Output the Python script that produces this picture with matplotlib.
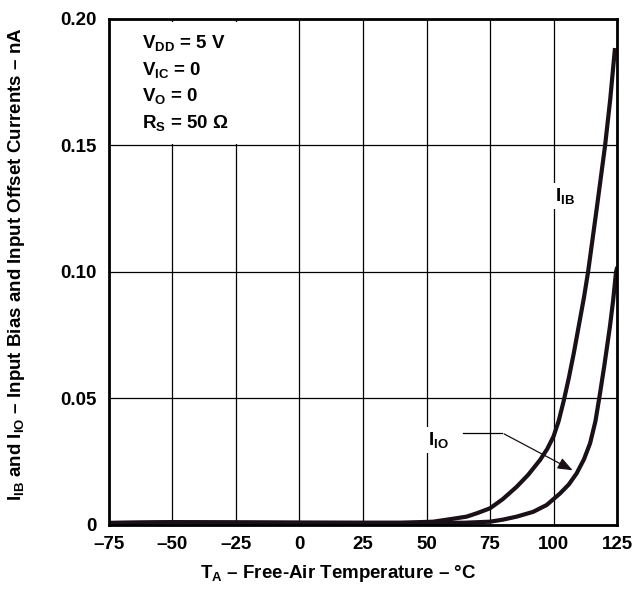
"""Input bias and input offset currents vs free-air temperature."""

import matplotlib

matplotlib.use("Agg")
import matplotlib.pyplot as plt

plt.rcParams["font.family"] = "Liberation Sans"
plt.rcParams["font.weight"] = "bold"
plt.rcParams["axes.labelweight"] = "bold"
plt.rcParams["mathtext.fontset"] = "custom"
plt.rcParams["mathtext.rm"] = "Liberation Sans:bold"
plt.rcParams["mathtext.it"] = "Liberation Sans:bold"
plt.rcParams["mathtext.bf"] = "Liberation Sans:bold"

# data (temperature in degC, current in nA)
temp_ib = [-75, -50, -25, 0, 25, 40, 52.6, 60, 65.8, 70, 75, 80, 85.5, 90,
           94.7, 97.5, 100, 102, 104, 106, 108, 110, 112, 113.6, 117, 120.3,
           122.3, 124.2]
i_ib = [0.0008, 0.0011, 0.001, 0.0009, 0.0009, 0.0009, 0.0013, 0.0024, 0.0033,
        0.0047, 0.0066, 0.0102, 0.0151, 0.0198, 0.0257, 0.030, 0.035, 0.041,
        0.049, 0.058, 0.068, 0.079, 0.090, 0.100, 0.125, 0.150, 0.168, 0.1885]

temp_io = [-75, -50, -25, 0, 25, 50, 65, 75, 80, 85.5, 92, 97.3, 102.6, 106,
           109.1, 112, 114.4, 116.5, 118.3, 120, 122.2, 123.5, 124.6, 125.1]
i_io = [0.0008, 0.0011, 0.001, 0.0009, 0.0008, 0.0008, 0.0009, 0.0013, 0.0021,
        0.0033, 0.0052, 0.0079, 0.0125, 0.016, 0.0204, 0.026, 0.0323, 0.041,
        0.052, 0.063, 0.0784, 0.0890, 0.100, 0.102]

x_ticks = [-75, -50, -25, 0, 25, 50, 75, 100, 125]
x_tick_labels = ["–75", "–50", "–25", "0", "25", "50", "75", "100", "125"]
y_ticks = [0, 0.05, 0.10, 0.15, 0.20]
y_tick_labels = ["0", "0.05", "0.10", "0.15", "0.20"]

conditions = [
    r"V$_{\rm DD}$ = 5 V",
    r"V$_{\rm IC}$ = 0",
    r"V$_{\rm O}$ = 0",
    r"R$_{\rm S}$ = 50 $\Omega$",
]

fig = plt.figure(figsize=(6.41, 5.92), dpi=100)
ax = fig.add_axes([0.170, 0.1132, 0.7926, 0.8548])

ax.set_xlim(-75, 125)
ax.set_ylim(0, 0.20)
ax.set_xticks(x_ticks)
ax.set_xticklabels(x_tick_labels)
ax.set_yticks(y_ticks)
ax.set_yticklabels(y_tick_labels)
ax.tick_params(length=0, labelsize=13.5, pad=8)
ax.tick_params(axis="y", pad=9)
ax.grid(True, color="black", linewidth=0.9)
ax.set_axisbelow(True)
for sp in ax.spines.values():
    sp.set_linewidth(2)

ax.plot(temp_ib, i_ib, color="#1a1018", linewidth=3, solid_capstyle="butt",
        solid_joinstyle="round")
ax.plot(temp_io, i_io, color="#1a1018", linewidth=3, solid_capstyle="butt",
        solid_joinstyle="round")

# conditions block (white backing hides the grid, spines stay on top)
ax.text(-62, 0.1945, "\n".join(conditions), fontsize=13.5, va="top", ha="left",
        linespacing=1.45, zorder=2.2,
        bbox=dict(facecolor="white", edgecolor="none", pad=8))

ax.text(104.5, 0.130, r"I$_{\rm IB}$", fontsize=13.5, ha="center", va="center",
        zorder=2.2, bbox=dict(facecolor="white", edgecolor="none", pad=2))
ax.text(54.5, 0.0335, r"I$_{\rm IO}$", fontsize=13.5, ha="center", va="center",
        zorder=2.2, bbox=dict(facecolor="white", edgecolor="none", pad=2))

# leader for I_IO
ax.plot([64.2, 79.6], [0.0365, 0.0365], color="black", linewidth=0.9)
ax.annotate("", xy=(108.5, 0.0211), xytext=(79.6, 0.0365),
            arrowprops=dict(arrowstyle="-|>,head_length=0.9,head_width=0.35",
                            color="#1a1018", linewidth=0.9))

ax.set_xlabel(r"T$_{\rm A}$ – Free-Air Temperature – °C", fontsize=13.5)
ax.xaxis.set_label_coords(0.451, -0.075)
ax.set_ylabel(r"I$_{\rm IB}$ and I$_{\rm IO}$ – Input Bias and Input Offset Currents – nA",
              fontsize=13.5)
ax.yaxis.set_label_coords(-0.161, 0.516)

fig.savefig("out.png", dpi=100)
